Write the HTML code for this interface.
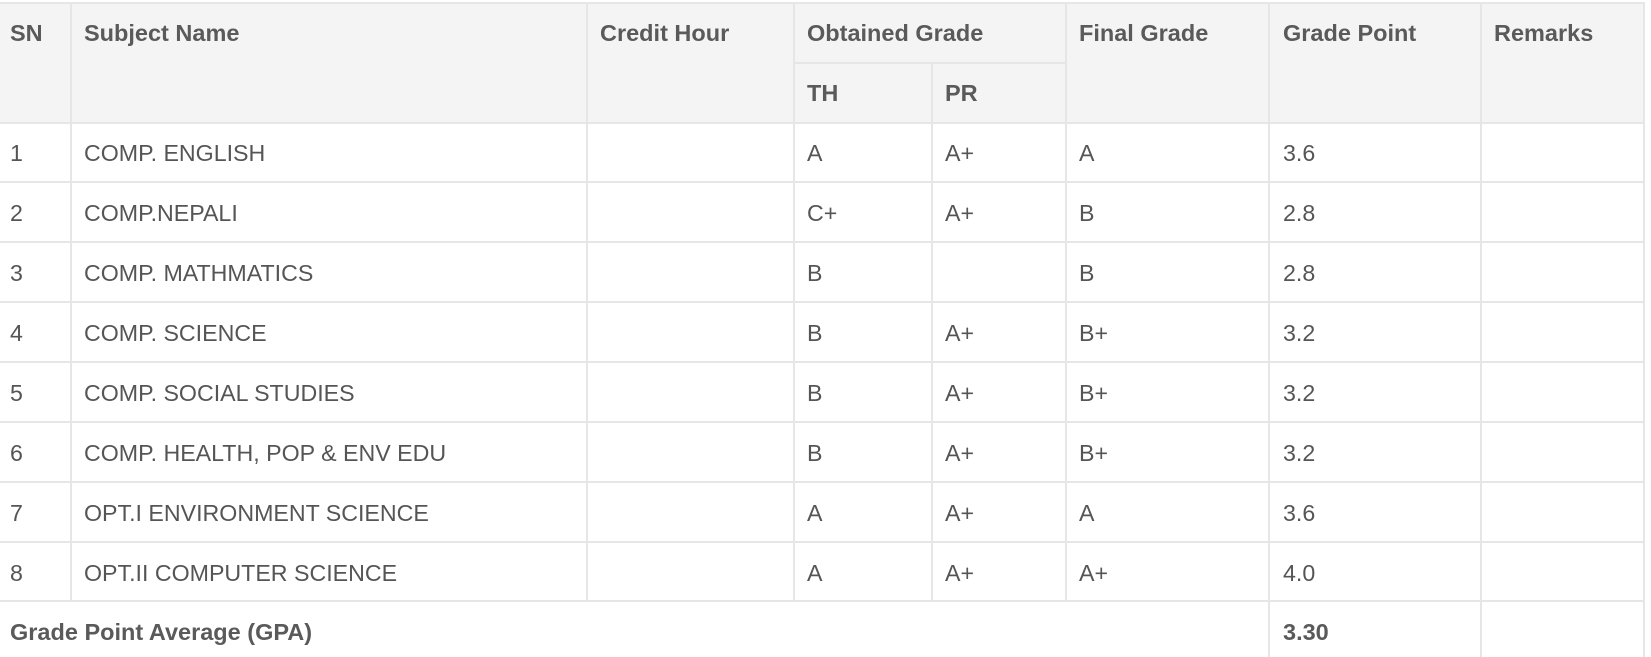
<!DOCTYPE html>
<html><head><meta charset="utf-8"><style>
html,body{margin:0;padding:0;background:#fff;width:1651px;height:657px;overflow:hidden}
.r{position:absolute}
.h{position:absolute;height:2px;background:#e6e6e6}
.v{position:absolute;width:2px;background:#e6e6e6}
.t{position:absolute;font-family:"Liberation Sans",sans-serif;color:#555;font-size:23.2px;line-height:24px;white-space:nowrap}
.b{font-weight:bold;font-size:23.5px;color:#5a5a5a}
</style></head><body>
<div class="r" style="left:0;top:3px;width:1644px;height:120px;background:#f4f4f4"></div>
<div class="h" style="left:0;top:2px;width:1645px"></div>
<div class="h" style="left:794px;top:62px;width:272px"></div>
<div class="h" style="left:0;top:122px;width:1645px"></div>
<div class="h" style="left:0;top:181px;width:1645px"></div>
<div class="h" style="left:0;top:241px;width:1645px"></div>
<div class="h" style="left:0;top:301px;width:1645px"></div>
<div class="h" style="left:0;top:361px;width:1645px"></div>
<div class="h" style="left:0;top:421px;width:1645px"></div>
<div class="h" style="left:0;top:481px;width:1645px"></div>
<div class="h" style="left:0;top:541px;width:1645px"></div>
<div class="h" style="left:0;top:600px;width:1645px"></div>
<div class="v" style="left:70px;top:3px;height:598px"></div>
<div class="v" style="left:586px;top:3px;height:598px"></div>
<div class="v" style="left:793px;top:3px;height:598px"></div>
<div class="v" style="left:931px;top:63px;height:538px"></div>
<div class="v" style="left:1065px;top:3px;height:598px"></div>
<div class="v" style="left:1268px;top:3px;height:654px"></div>
<div class="v" style="left:1480px;top:3px;height:654px"></div>
<div class="v" style="left:1643px;top:3px;height:654px"></div>

<div class="t b" style="left:10px;top:21px">SN</div>
<div class="t b" style="left:84px;top:21px">Subject Name</div>
<div class="t b" style="left:600px;top:21px">Credit Hour</div>
<div class="t b" style="left:807px;top:21px">Obtained Grade</div>
<div class="t b" style="left:807px;top:81px">TH</div>
<div class="t b" style="left:945px;top:81px">PR</div>
<div class="t b" style="left:1079px;top:21px">Final Grade</div>
<div class="t b" style="left:1283px;top:21px">Grade Point</div>
<div class="t b" style="left:1494px;top:21px">Remarks</div>

<div class="t" style="left:10px;top:141px">1</div><div class="t" style="left:84px;top:141px">COMP. ENGLISH</div><div class="t" style="left:807px;top:141px">A</div><div class="t" style="left:945px;top:141px">A+</div><div class="t" style="left:1079px;top:141px">A</div><div class="t" style="left:1283px;top:141px">3.6</div>
<div class="t" style="left:10px;top:201px">2</div><div class="t" style="left:84px;top:201px">COMP.NEPALI</div><div class="t" style="left:807px;top:201px">C+</div><div class="t" style="left:945px;top:201px">A+</div><div class="t" style="left:1079px;top:201px">B</div><div class="t" style="left:1283px;top:201px">2.8</div>
<div class="t" style="left:10px;top:261px">3</div><div class="t" style="left:84px;top:261px">COMP. MATHMATICS</div><div class="t" style="left:807px;top:261px">B</div><div class="t" style="left:1079px;top:261px">B</div><div class="t" style="left:1283px;top:261px">2.8</div>
<div class="t" style="left:10px;top:321px">4</div><div class="t" style="left:84px;top:321px">COMP. SCIENCE</div><div class="t" style="left:807px;top:321px">B</div><div class="t" style="left:945px;top:321px">A+</div><div class="t" style="left:1079px;top:321px">B+</div><div class="t" style="left:1283px;top:321px">3.2</div>
<div class="t" style="left:10px;top:381px">5</div><div class="t" style="left:84px;top:381px">COMP. SOCIAL STUDIES</div><div class="t" style="left:807px;top:381px">B</div><div class="t" style="left:945px;top:381px">A+</div><div class="t" style="left:1079px;top:381px">B+</div><div class="t" style="left:1283px;top:381px">3.2</div>
<div class="t" style="left:10px;top:441px">6</div><div class="t" style="left:84px;top:441px">COMP. HEALTH, POP &amp; ENV EDU</div><div class="t" style="left:807px;top:441px">B</div><div class="t" style="left:945px;top:441px">A+</div><div class="t" style="left:1079px;top:441px">B+</div><div class="t" style="left:1283px;top:441px">3.2</div>
<div class="t" style="left:10px;top:501px">7</div><div class="t" style="left:84px;top:501px">OPT.I ENVIRONMENT SCIENCE</div><div class="t" style="left:807px;top:501px">A</div><div class="t" style="left:945px;top:501px">A+</div><div class="t" style="left:1079px;top:501px">A</div><div class="t" style="left:1283px;top:501px">3.6</div>
<div class="t" style="left:10px;top:561px">8</div><div class="t" style="left:84px;top:561px">OPT.II COMPUTER SCIENCE</div><div class="t" style="left:807px;top:561px">A</div><div class="t" style="left:945px;top:561px">A+</div><div class="t" style="left:1079px;top:561px">A+</div><div class="t" style="left:1283px;top:561px">4.0</div>

<div class="t b" style="left:10px;top:620px">Grade Point Average (GPA)</div>
<div class="t b" style="left:1283px;top:620px">3.30</div>
</body></html>
